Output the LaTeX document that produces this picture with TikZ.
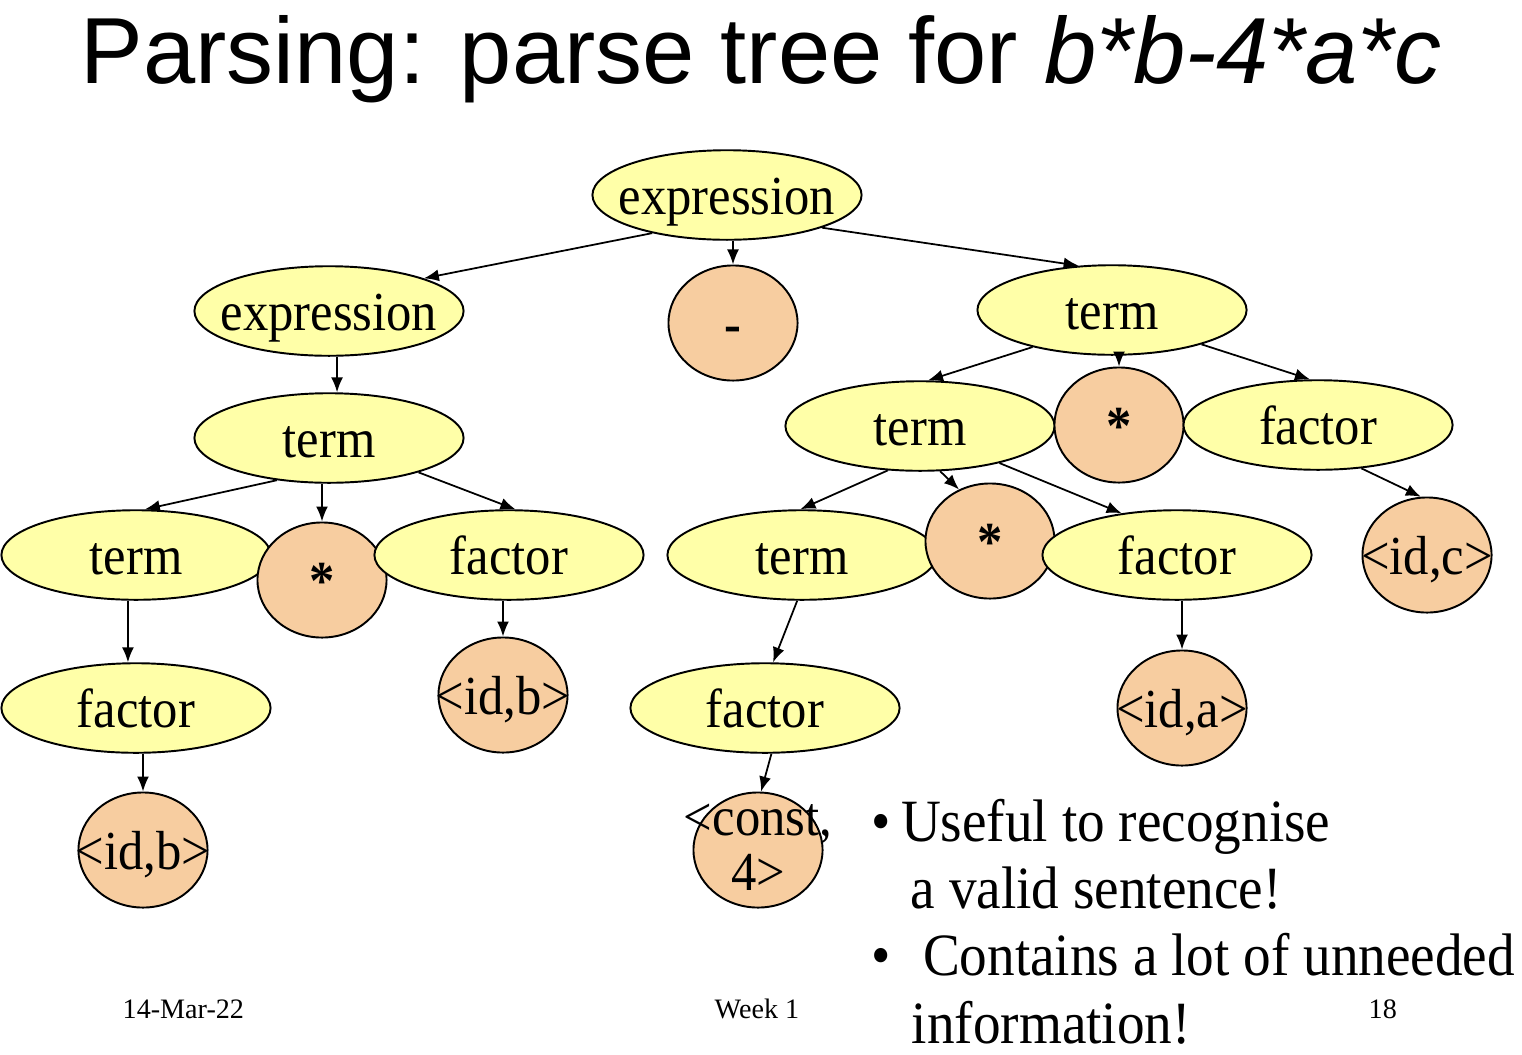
\documentclass[tikz,border=0pt]{standalone}
\usepackage{fontspec}
\setmainfont{Liberation Serif}
\newfontfamily\titlefont{Liberation Sans}
\newfontfamily\treefont[FakeStretch=0.92]{Liberation Serif}
\usetikzlibrary{shapes.geometric,arrows.meta}

\definecolor{ntyellow}{RGB}{255,255,168}
\definecolor{tokorange}{RGB}{247,205,160}

% text of fixed width zero, so the shapes keep their size
\newcommand\nb[1]{\makebox[0pt]{#1}}
\newcommand\constlabel{\vbox{\baselineskip=0.55cm\halign{\hfil##\hfil\cr<const,\cr4>\cr}}}

\tikzset{
    nterm/.style={ellipse, draw, line width=0.55pt, fill=ntyellow, inner sep=0pt,
        minimum width=2.69cm, minimum height=0.895cm,
        font=\fontsize{15.65pt}{18pt}\treefont, text height=0.42cm, text depth=0.04cm},
    token/.style={nterm, fill=tokorange, minimum width=1.29cm, minimum height=1.15cm},
    edge/.style={-{Latex[length=1.5mm,width=1.2mm]}, line width=0.5pt},
    foot/.style={anchor=base west, inner sep=0pt, font=\fontsize{8pt}{9.6pt}\selectfont}
}

\begin{document}
\begin{tikzpicture}[x=0.01cm, y=-0.01cm]
    \useasboundingbox (0,0) rectangle (1522,1054);

    % Title
    \node[anchor=base west, inner sep=0pt, font=\fontsize{26.7pt}{32pt}\titlefont]
        (title) at (80,83) {Parsing: parse tree for \textit{b*b-4*a*c}};

    % Level 1 and 2
    \node[nterm] (expr) at (727,195) {\nb{expression}};
    \node[nterm] (lexpr) at (329,311) {\nb{expression}};
    \node[token] (minus) at (733,323) {\nb{\textbf{-}}};
    \node[nterm] (rterm) at (1112,310) {\nb{term}};

    % Level 3
    \node[nterm] (lterm) at (329,438) {\nb{term}};
    \node[nterm] (mterm) at (920,426) {\nb{term}};
    \node[token] (mstar) at (1119,425) {\nb{\textbf{*}}};
    \node[nterm] (mfactor) at (1318,425) {\nb{factor}};

    % Level 4
    \node[nterm] (llterm) at (136,555) {\nb{term}};
    \node[token] (lstar) at (322,580) {\nb{\textbf{*}}};
    \node[nterm] (lfactor) at (509,555) {\nb{factor}};
    \node[nterm] (rlterm) at (802,555) {\nb{term}};
    \node[token] (rstar) at (990,541) {\nb{\textbf{*}}};
    \node[nterm] (rfactor) at (1177,555) {\nb{factor}};
    \node[token] (idc) at (1427,555) {\nb{<id,c>}};

    % Level 5 and 6
    \node[nterm] (llfactor) at (136,708) {\nb{factor}};
    \node[token] (idb) at (503,695) {\nb{<id,b>}};
    \node[nterm] (rlfactor) at (765,708) {\nb{factor}};
    \node[token] (ida) at (1182,708) {\nb{<id,a>}};
    \node[token] (idbb) at (143,850) {\nb{<id,b>}};
    \node[token] (const) at (758,850) {\nb{\raisebox{-0.21cm}{\constlabel}}};

    % Edges
    \draw[edge] (expr.207) -- (lexpr.19);
    \draw[edge] (expr.south -| minus) -- (minus.north);
    \draw[edge] (expr.-19) -- (rterm.127);
    \draw[edge] (lexpr.-80) -- (lterm.80);
    \draw[edge] (lterm.219) -- (llterm.79);
    \draw[edge] (lterm.south -| lstar) -- (lstar.north);
    \draw[edge] (lterm.-21) -- (lfactor.82);
    \draw[edge] (llterm.-100) -- (llfactor.100);
    \draw[edge] (lfactor.south -| idb) -- (idb.north);
    \draw[edge] (llfactor.south -| idbb) -- (idbb.north);
    \draw[edge] (rterm.205) -- (mterm.80);
    \draw[edge] (rterm.south -| mstar) -- (mstar.north);
    \draw[edge] (rterm.-21) -- (mfactor.100);
    \draw[edge] (mterm.234) -- (rlterm.92);
    \draw[edge] (mterm.-66) -- (rstar.121);
    \draw[edge] (mterm.-25) -- (rfactor.143);
    \draw[edge] (mfactor.-45) -- (idc.96);
    \draw[edge] (rlterm.-96) -- (rlfactor.80);
    \draw[edge] (rfactor.south -| ida) -- (ida.north);
    \draw[edge] (rlfactor.-82) -- (const.87);

    % Notes (base is the last line)
    \node[anchor=base west, inner sep=0pt, align=left,
        font=\fontsize{17.07pt}{19.06pt}\treefont] (notes) at (871,1043)
        {\textbullet\hspace{0.1cm}Useful to recognise\\
         \hspace*{0.39cm}a valid sentence!\\
         \textbullet\hspace{0.32cm}Contains a lot of unneeded\\
         \hspace*{0.40cm}information!};

    % Footer
    \node[foot] (date) at (122,1018) {14-Mar-22};
    \node[foot] (week) at (714,1018) {Week 1};
    \node[foot] (page) at (1368,1018) {18};

\end{tikzpicture}
\end{document}
